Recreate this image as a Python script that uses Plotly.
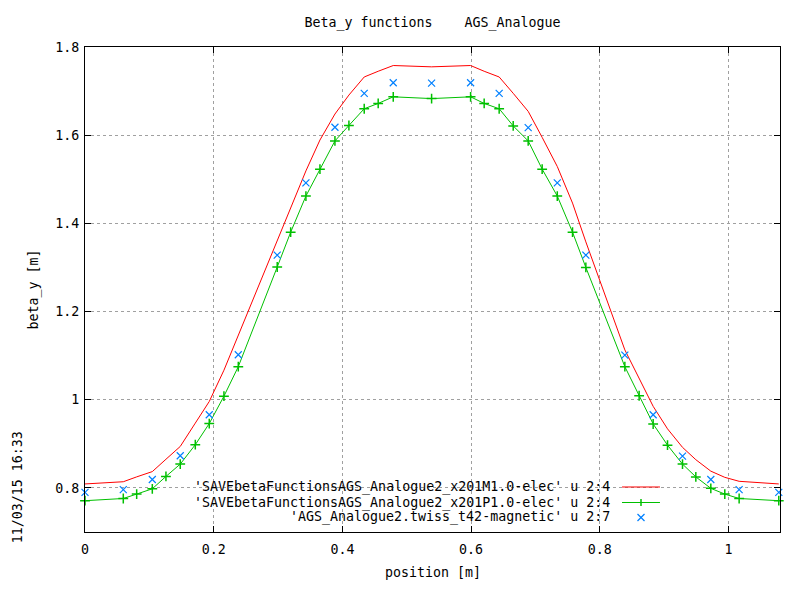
import plotly.graph_objects as go

# positions along the element [m]
s_elec = [0, 0.0595, 0.0803, 0.1046, 0.1258, 0.1480, 0.1714, 0.1931, 0.2159, 0.2382,
          0.2987, 0.3196, 0.3433, 0.3651, 0.3884, 0.4101, 0.4339, 0.4556, 0.4790, 0.5386,
          0.5992, 0.6203, 0.6436, 0.6654, 0.6887, 0.7104, 0.7339, 0.7576, 0.7783, 0.8389,
          0.8611, 0.8829, 0.9052, 0.9285, 0.9492, 0.9725, 0.9942, 1.0165, 1.0781]

beta_m1 = [0.809, 0.814, 0.825, 0.837, 0.865, 0.894, 0.947, 0.996, 1.067, 1.146,
           1.362, 1.434, 1.519, 1.589, 1.648, 1.691, 1.732, 1.745, 1.758, 1.755,
           1.758, 1.745, 1.732, 1.695, 1.654, 1.595, 1.529, 1.446, 1.358, 1.113,
           1.047, 0.985, 0.934, 0.892, 0.864, 0.838, 0.824, 0.815, 0.809]

beta_p1 = [0.771, 0.776, 0.786, 0.798, 0.826, 0.854, 0.898, 0.946, 1.008, 1.075,
           1.301, 1.380, 1.462, 1.523, 1.587, 1.622, 1.660, 1.672, 1.687, 1.683,
           1.687, 1.672, 1.660, 1.621, 1.587, 1.523, 1.462, 1.380, 1.300, 1.075,
           1.009, 0.945, 0.897, 0.854, 0.825, 0.799, 0.786, 0.776, 0.771]

s_mag = [0, 0.0595, 0.1046, 0.1480, 0.1931, 0.2382, 0.2987, 0.3433, 0.3884, 0.4339,
         0.4790, 0.5386, 0.5992, 0.6436, 0.6887, 0.7339, 0.7783, 0.8389, 0.8829, 0.9285,
         0.9725, 1.0165, 1.0781]
beta_mag = [0.790, 0.796, 0.819, 0.873, 0.966, 1.102, 1.328, 1.492, 1.618, 1.695,
            1.719, 1.718, 1.719, 1.695, 1.617, 1.492, 1.328, 1.101, 0.966, 0.872,
            0.819, 0.796, 0.790]

labels = ["'SAVEbetaFunctionsAGS_Analogue2_x201M1.0-elec' u 2:4",
          "'SAVEbetaFunctionsAGS_Analogue2_x201P1.0-elec' u 2:4",
          "'AGS_Analogue2.twiss_t42-magnetic' u 2:7"]

RED = '#ff0000'
GREEN = '#00c000'
BLUE = '#0080ff'
FONT = dict(family='DejaVu Sans Mono', size=13.3, color='black')

fig = go.Figure()

fig.add_trace(go.Scatter(x=s_elec, y=beta_m1, mode='lines',
                         line=dict(color=RED, width=1), name=labels[0]))
fig.add_trace(go.Scatter(x=s_elec, y=beta_p1, mode='lines+markers',
                         line=dict(color=GREEN, width=1),
                         marker=dict(symbol='cross-thin', size=7,
                                     line=dict(color=GREEN, width=1.5)),
                         cliponaxis=False, name=labels[1]))
fig.add_trace(go.Scatter(x=s_mag, y=beta_mag, mode='markers',
                         marker=dict(symbol='x-thin', size=7, color=BLUE,
                                     line=dict(color=BLUE, width=1.2)),
                         cliponaxis=False, name=labels[2]))

axis_style = dict(showline=True, linecolor='black', linewidth=1, mirror='allticks',
                  ticks='inside', ticklen=6, tickcolor='black',
                  showgrid=True, gridcolor='#a0a0a0', griddash='3px,3px', gridwidth=1,
                  zeroline=False, tickfont=FONT)

fig.update_xaxes(range=[0, 1.08], tick0=0, dtick=0.2, ticklabelstandoff=5, **axis_style)
fig.update_yaxes(range=[0.7, 1.8], tick0=0.8, dtick=0.2, ticklabelstandoff=2, **axis_style)

# key box (gnuplot style: text right-aligned, sample on the right)
shapes = [dict(type='rect', xref='paper', yref='paper', x0=0.161, x1=0.837,
               y0=0.0144, y1=0.1093, fillcolor='white', line=dict(width=0),
               layer='between')]
annotations = []
key_y = [0.0928, 0.0608, 0.0299]
for lab, ky in zip(labels, key_y):
    annotations.append(dict(text=lab, xref='paper', yref='paper', x=0.7583, y=ky,
                            xanchor='right', yanchor='middle', showarrow=False, font=FONT))
shapes.append(dict(type='line', xref='paper', yref='paper', x0=0.7727, x1=0.8273,
                   y0=key_y[0], y1=key_y[0], line=dict(color=RED, width=1)))
shapes.append(dict(type='line', xref='paper', yref='paper', x0=0.7727, x1=0.8273,
                   y0=key_y[1], y1=key_y[1], line=dict(color=GREEN, width=1)))
# + sample
shapes.append(dict(type='line', xref='paper', yref='paper', xsizemode='pixel', ysizemode='pixel',
                   xanchor=0.8, yanchor=key_y[1], x0=0, x1=0, y0=-3.5, y1=3.5,
                   line=dict(color=GREEN, width=1.5)))
# x sample
for d in (1, -1):
    shapes.append(dict(type='line', xref='paper', yref='paper', xsizemode='pixel', ysizemode='pixel',
                       xanchor=0.8, yanchor=key_y[2], x0=-3.5, x1=3.5, y0=-3.5 * d, y1=3.5 * d,
                       line=dict(color=BLUE, width=1.2)))

annotations += [
    dict(text='beta_y [m]', xref='paper', yref='paper', x=-0.0748, y=0.5, textangle=-90,
         xanchor='center', yanchor='middle', showarrow=False, font=FONT),
    dict(text='position [m]', xref='paper', yref='paper', x=0.5, y=-0.0825,
         xanchor='center', yanchor='middle', showarrow=False, font=FONT),
    dict(text='11/03/15 16:33', xref='paper', yref='paper', x=-0.096, y=0.0928, textangle=-90,
         xanchor='center', yanchor='middle', showarrow=False, font=FONT),
]

# page body has an 8px margin, so the figure is laid out 8px up/left
fig.update_layout(
    width=800, height=600,
    margin=dict(l=77, r=28, t=39, b=76),
    paper_bgcolor='white', plot_bgcolor='white',
    title=dict(text='Beta_y functions\u00a0\u00a0\u00a0\u00a0AGS_Analogue', x=0.5, xref='paper',
               y=1 - 14 / 600, yanchor='middle', font=FONT),
    showlegend=False,
    shapes=shapes,
    annotations=annotations,
)

fig.write_html('out.html')
